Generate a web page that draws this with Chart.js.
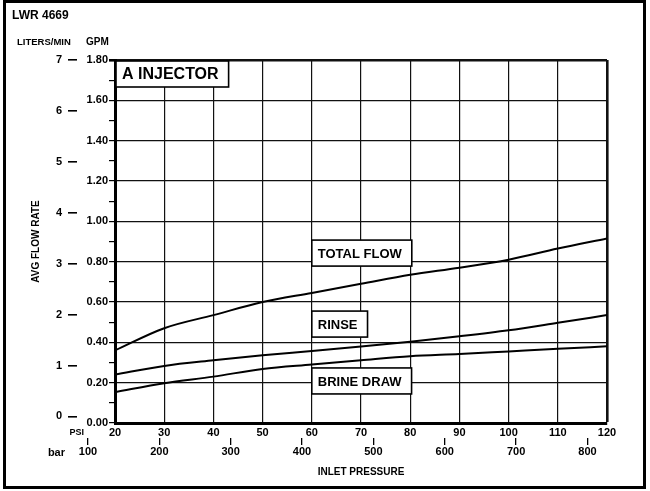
<!DOCTYPE html>
<html><head><meta charset="utf-8">
<script src="https://cdn.jsdelivr.net/npm/chart.js@4"></script>
<style>html,body{margin:0;padding:0;background:#fff;}canvas{display:block;}</style>
</head><body>
<canvas id="c" width="650" height="491"></canvas>
<script>
// ---- data ----
const psi        = [20, 30, 40, 50, 60, 70, 80, 90, 100, 110, 120];
const totalFlow  = [0.36, 0.47, 0.535, 0.60, 0.645, 0.69, 0.735, 0.77, 0.81, 0.865, 0.915];
const rinse      = [0.24, 0.283, 0.311, 0.336, 0.357, 0.379, 0.403, 0.43, 0.46, 0.497, 0.535];
const brineDraw  = [0.153, 0.197, 0.23, 0.268, 0.29, 0.311, 0.331, 0.342, 0.355, 0.368, 0.38];
const psiTicks   = [20, 30, 40, 50, 60, 70, 80, 90, 100, 110, 120];
const kpaTicks   = [100, 200, 300, 400, 500, 600, 700, 800];
const literTicks = [0, 1, 2, 3, 4, 5, 6, 7];
const seriesNames = ['TOTAL FLOW', 'RINSE', 'BRINE DRAW'];
const PSI_TO_KPA = 6.89476;

const FONT = '"Liberation Sans", Arial, Helvetica, sans-serif';
Chart.defaults.font.family = FONT;
Chart.defaults.color = '#000';

// label boxes anchored in data coordinates (psi, gpm of box top)
const labelAnchors = [
  {text: seriesNames[0], x: 60, y: 0.907},
  {text: seriesNames[1], x: 60, y: 0.555},
  {text: seriesNames[2], x: 60, y: 0.273}
];

function drawBox(ctx, text, x, y, size, h) {
  ctx.font = 'bold ' + size + 'px ' + FONT;
  const w = ctx.measureText(text).width + 16;
  ctx.fillStyle = '#fff';
  ctx.fillRect(x, y, w, h);
  ctx.lineWidth = 1.6;
  ctx.strokeStyle = '#000';
  ctx.strokeRect(x, y, w, h);
  ctx.fillStyle = '#000';
  ctx.textAlign = 'left';
  ctx.textBaseline = 'middle';
  ctx.fillText(text, x + 6, y + h / 2 + 1);
}

const annot = {
  id: 'annot',
  afterDatasetsDraw(chart) {
    const {ctx, chartArea: a, scales} = chart;
    ctx.save();
    drawBox(ctx, 'A INJECTOR', a.left + 1, a.top + 1, 16, 26);
    labelAnchors.forEach(l => {
      drawBox(ctx, l.text, scales.x.getPixelForValue(l.x), scales.y.getPixelForValue(l.y), 13, 26);
    });
    ctx.restore();
  },
  afterDraw(chart) {
    const {ctx, chartArea: a} = chart;
    ctx.save();
    ctx.strokeStyle = '#000';
    ctx.lineWidth = 3;
    ctx.strokeRect(4.5, 1.5, 640, 486);
    ctx.fillStyle = '#000';
    ctx.textBaseline = 'middle';
    ctx.textAlign = 'left';
    ctx.font = 'bold 12px ' + FONT;
    ctx.fillText('LWR 4669', 12, 16);
    ctx.font = 'bold 9.5px ' + FONT;
    ctx.fillText('LITERS/MIN', 17, 42);
    ctx.font = 'bold 10px ' + FONT;
    ctx.fillText('GPM', 86, 42);
    ctx.font = 'bold 9px ' + FONT;
    ctx.textAlign = 'right';
    ctx.fillText('PSI', a.left - 31, a.bottom + 10);
    ctx.font = 'bold 11px ' + FONT;
    ctx.fillText('bar', a.left - 50, a.bottom + 30);
    ctx.restore();
  }
};

const isMajor = v => Math.round(v * 10) % 2 === 0;

new Chart(document.getElementById('c'), {
  type: 'line',
  data: {
    datasets: [
      {label: seriesNames[0], data: psi.map((p, i) => ({x: p, y: totalFlow[i]}))},
      {label: seriesNames[1], data: psi.map((p, i) => ({x: p, y: rinse[i]}))},
      {label: seriesNames[2], data: psi.map((p, i) => ({x: p, y: brineDraw[i]}))}
    ]
  },
  options: {
    responsive: false,
    animation: false,
    devicePixelRatio: 1,
    layout: {padding: {left: 24, right: 43, top: 60, bottom: 11}},
    plugins: {legend: {display: false}, tooltip: {enabled: false}},
    elements: {
      point: {radius: 0, hoverRadius: 0},
      line: {borderWidth: 2, borderColor: '#000', cubicInterpolationMode: 'monotone', fill: false}
    },
    scales: {
      x: {
        type: 'linear', position: 'bottom', weight: 0, min: 20, max: 120,
        afterBuildTicks: s => { s.ticks = psiTicks.map(v => ({value: v})); },
        afterFit: s => { s.height = 15; },
        ticks: {font: {size: 11, weight: 'bold'}, color: '#000', padding: 1, maxRotation: 0, autoSkip: false},
        grid: {color: '#111', lineWidth: c => (c.tick && c.tick.value === 120 ? 2.6 : 1.2), tickLength: 2, tickColor: '#000'},
        border: {color: '#000', width: 3}
      },
      x2: {
        type: 'linear', position: 'bottom', weight: 1, min: 20 * PSI_TO_KPA, max: 120 * PSI_TO_KPA,
        afterBuildTicks: s => { s.ticks = kpaTicks.map(v => ({value: v})); },
        afterFit: s => { s.height = 42; },
        ticks: {font: {size: 11, weight: 'bold'}, color: '#000', padding: 0, maxRotation: 0, autoSkip: false},
        grid: {drawOnChartArea: false, tickLength: 7, tickColor: '#000', lineWidth: 1.3},
        border: {display: false},
        title: {display: true, text: 'INLET PRESSURE', font: {size: 10, weight: 'bold'}, color: '#000', padding: {top: 0, bottom: 2}}
      },
      y: {
        type: 'linear', position: 'left', weight: 0, min: 0, max: 1.8,
        afterFit: s => { s.width = 38; },
        ticks: {stepSize: 0.1, autoSkip: false, padding: 1, color: '#000', font: {size: 11, weight: 'bold'},
                callback: v => (isMajor(v) ? v.toFixed(2) : '')},
        grid: {
          color: c => (c.tick && isMajor(c.tick.value) ? '#111' : 'rgba(0,0,0,0)'),
          lineWidth: c => (c.tick && Math.abs(c.tick.value - 1.8) < 1e-6 ? 2.6 : 1.2),
          tickColor: '#000', tickLength: 6
        },
        border: {color: '#000', width: 3}
      },
      yL: {
        type: 'linear', position: 'left', weight: 1, min: -0.13, max: 7,
        afterBuildTicks: s => { s.ticks = literTicks.map(v => ({value: v})); },
        afterFit: s => { s.width = 53; },
        ticks: {font: {size: 11, weight: 'bold'}, color: '#000', padding: 6, autoSkip: false},
        grid: {drawOnChartArea: false, tickLength: 9, tickColor: '#000', lineWidth: 1.6},
        border: {display: false},
        title: {display: true, text: 'AVG FLOW RATE', font: {size: 10, weight: 'bold'}, color: '#000', padding: {top: 6, bottom: 0}}
      }
    }
  },
  plugins: [annot]
});
</script>
</body></html>
